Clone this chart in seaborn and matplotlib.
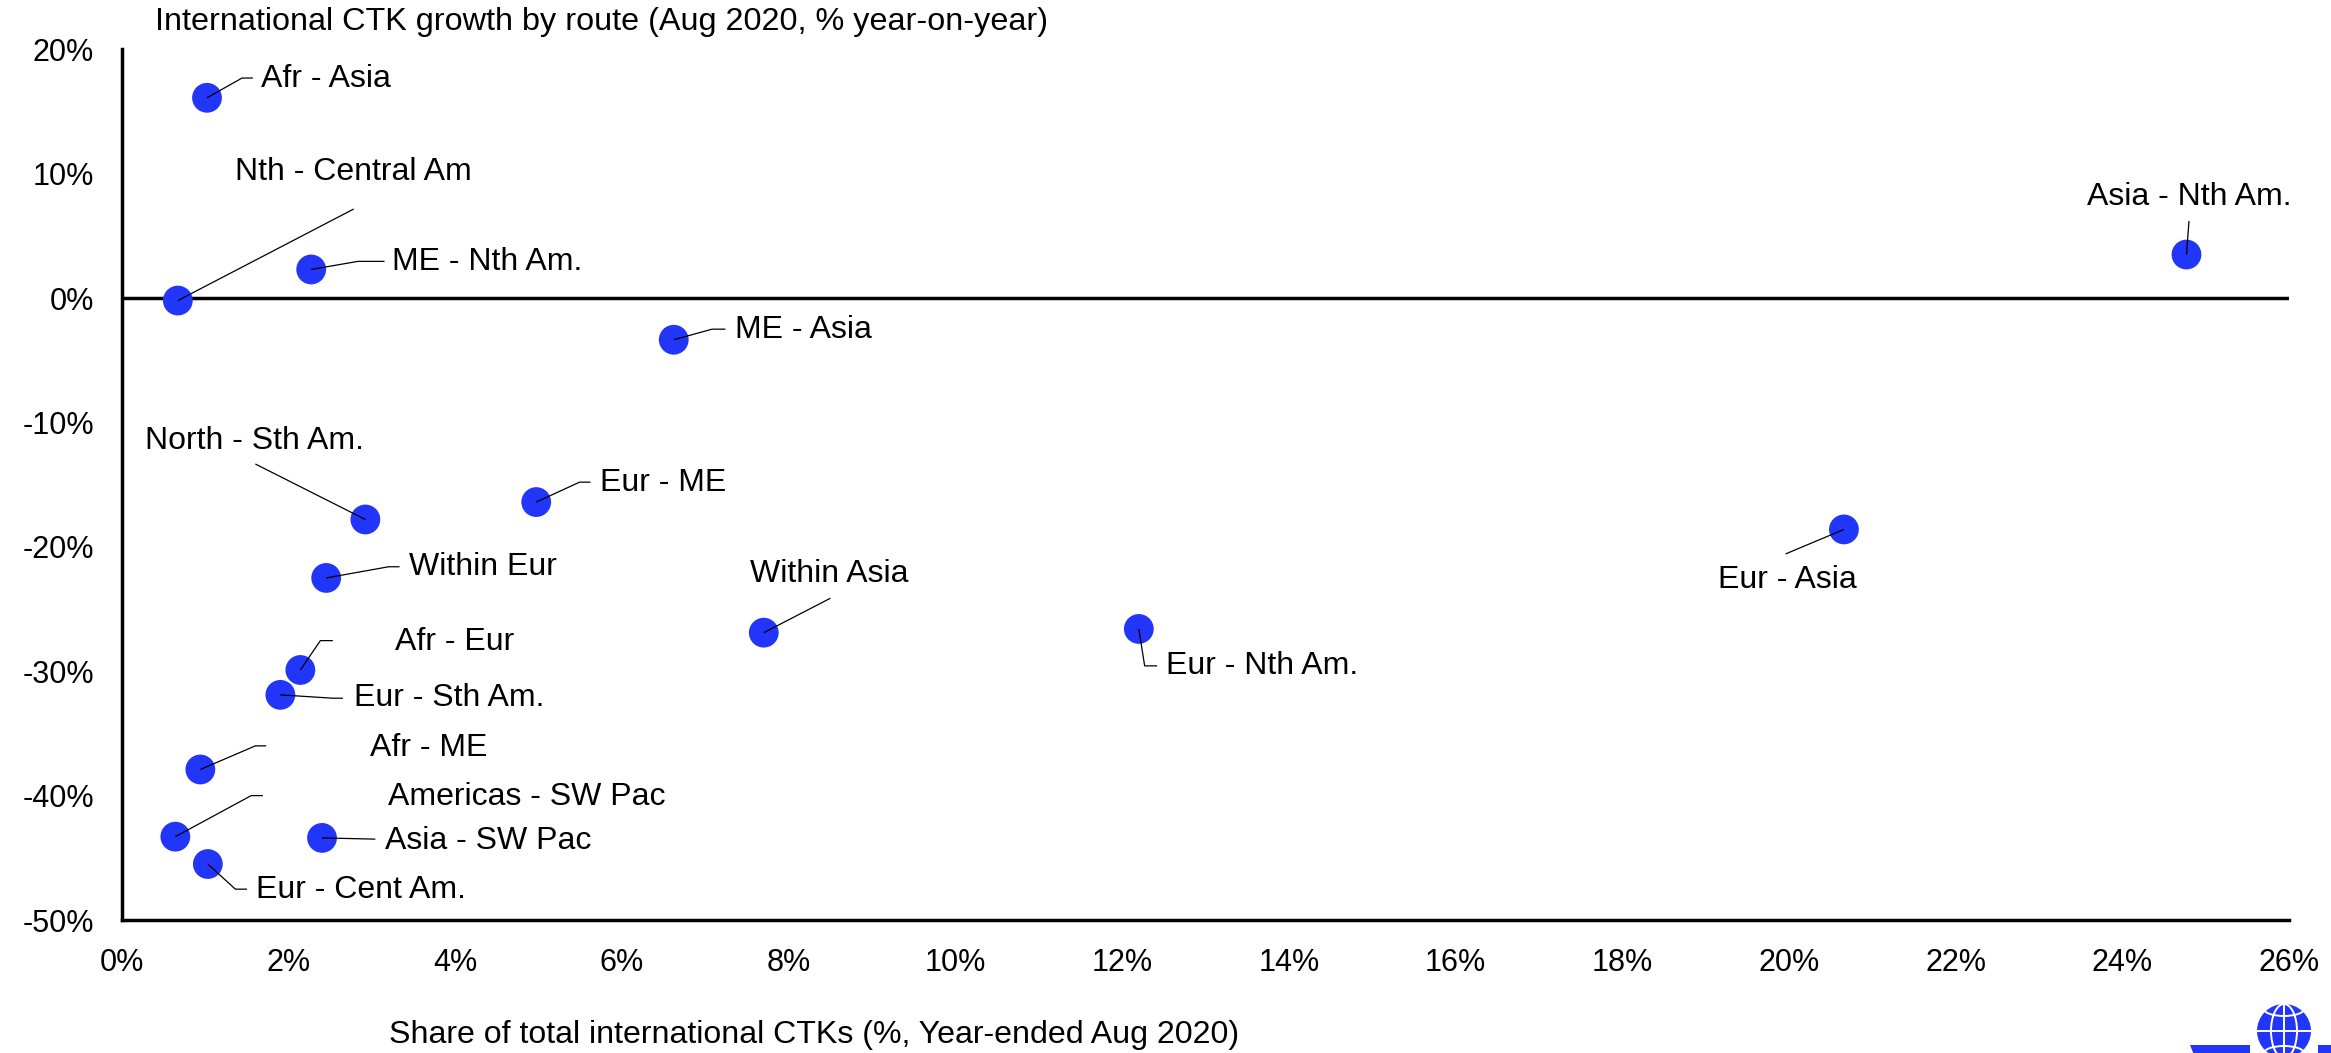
import matplotlib
matplotlib.use("Agg")
import matplotlib.pyplot as plt
from matplotlib.patches import Circle, Ellipse, Polygon
from matplotlib.ticker import FuncFormatter, MultipleLocator
import seaborn as sns
import pandas as pd

# ---------------- data ----------------
routes = ["Afr - Asia", "Nth - Central Am", "ME - Nth Am.", "ME - Asia", "North - Sth Am.",
          "Eur - ME", "Within Eur", "Within Asia", "Eur - Nth Am.", "Eur - Asia",
          "Asia - Nth Am.", "Afr - Eur", "Eur - Sth Am.", "Afr - ME", "Americas - SW Pac",
          "Asia - SW Pac", "Eur - Cent Am."]
share = [1.02, 0.67, 2.27, 6.62, 2.92, 4.97, 2.45, 7.70, 12.2, 20.66,
         24.77, 2.14, 1.90, 0.94, 0.64, 2.40, 1.03]
growth = [16.1, -0.2, 2.3, -3.35, -17.8, -16.4, -22.5, -26.9, -26.6, -18.6,
          3.5, -29.9, -31.9, -37.9, -43.3, -43.4, -45.5]

title = "International CTK growth by route (Aug 2020, % year-on-year)"
xlabel = "Share of total international CTKs (%, Year-ended Aug 2020)"

# ---------------- label layout (left-centre anchor of each label) ----------------
label_xy = [(1.67, 17.6), (1.36, 10.13), (3.24, 2.89), (7.35, -2.56), (0.28, -11.5),
            (5.73, -14.84), (3.44, -21.64), (7.54, -22.2), (12.53, -29.6), (19.15, -22.66),
            (23.58, 8.15), (3.28, -27.62), (2.78, -32.17), (2.97, -36.14), (3.19, -40.08),
            (3.15, -43.62), (1.61, -47.57)]
leaders = [
    [(1.44, 17.69), (1.57, 17.69)],
    [(2.78, 7.16)],
    [(2.83, 2.95), (3.15, 2.95)],
    [(7.08, -2.5), (7.24, -2.5)],
    [(1.60, -13.34)],
    [(5.49, -14.8), (5.62, -14.8)],
    [(3.20, -21.6), (3.33, -21.6)],
    [(8.50, -24.13)],
    [(12.27, -29.57), (12.42, -29.57)],
    [(19.96, -20.57)],
    [(24.8, 6.2)],
    [(2.38, -27.54), (2.53, -27.54)],
    [(2.53, -32.17), (2.65, -32.17)],
    [(1.60, -36.0), (1.73, -36.0)],
    [(1.55, -40.0), (1.69, -40.0)],
    [(3.04, -43.5)],
    [(1.36, -47.52), (1.50, -47.52)],
]

BLUE = "#2236FA"
FONT = ["Liberation Sans", "DejaVu Sans"]
TXT = 23
TICK = 22

sns.set_theme(style="white")
plt.rcParams["font.family"] = FONT

W, H = 2331, 1053
fig = plt.figure(figsize=(W / 100, H / 100), dpi=100)
ax = fig.add_axes([122 / W, 1 - 920 / H, (2289 - 122) / W, (920 - 49.3) / H])

df = pd.DataFrame({"route": routes, "share": share, "growth": growth})
sns.scatterplot(data=df, x="share", y="growth", ax=ax, s=460, color=BLUE,
                edgecolor="none", linewidth=0, zorder=3, legend=False)

ax.set_xlim(0, 26)
ax.set_ylim(-50, 20)
ax.axhline(0, color="black", lw=2.5, zorder=2)

for (px, py), name, (tx, ty), pts in zip(zip(share, growth), routes, label_xy, leaders):
    xs = [px] + [p[0] for p in pts]
    ys = [py] + [p[1] for p in pts]
    ax.plot(xs, ys, color="black", lw=0.9, zorder=4, solid_capstyle="butt")
    ax.text(tx, ty, name, ha="left", va="center", fontsize=TXT, color="black", zorder=5)

ax.xaxis.set_major_locator(MultipleLocator(2))
ax.yaxis.set_major_locator(MultipleLocator(10))
ax.xaxis.set_major_formatter(FuncFormatter(lambda v, p: f"{v:.0f}%"))
ax.yaxis.set_major_formatter(FuncFormatter(lambda v, p: f"{v:.0f}%"))
ax.tick_params(axis="both", which="major", direction="out", length=7, width=2.4,
               color="black", labelsize=TICK, labelcolor="black")
ax.tick_params(axis="y", pad=13)
ax.tick_params(axis="x", pad=13)

for side in ["top", "right"]:
    ax.spines[side].set_visible(False)
for side in ["left", "bottom"]:
    ax.spines[side].set_color("black")
    ax.spines[side].set_linewidth(2.5)
ax.set_xlabel("")
ax.set_ylabel("")

ax.text(0.0152, 1.031, title, transform=ax.transAxes, ha="left", va="center",
        fontsize=23.3, color="black")
fig.text(389 / W, 1 - 1035 / H, xlabel, ha="left", va="center", fontsize=23.1, color="black")

# ---------------- logo (globe with wings), drawn in pixel units ----------------
lx0, lx1, ly0, ly1 = 2170, 2331, 990, 1053
lax = fig.add_axes([lx0 / W, 0, (lx1 - lx0) / W, (ly1 - ly0) / H])
lax.set_xlim(lx0, lx1)
lax.set_ylim(ly1, ly0)
lax.axis("off")
cx, cy, r = 2284, 1031, 27
lax.add_patch(Polygon([(2190, 1045), (2250, 1045), (2250, 1055), (2194, 1055)],
                      closed=True, color=BLUE, lw=0))
lax.add_patch(Polygon([(2318, 1045), (2335, 1045), (2335, 1055), (2318, 1055)],
                      closed=True, color=BLUE, lw=0))
lax.add_patch(Circle((cx, cy), r + 5, color="white", lw=0))
lax.add_patch(Circle((cx, cy), r, color=BLUE, lw=0))
lax.add_patch(Ellipse((cx, cy), 26, 2 * r, fill=False, edgecolor="white", lw=1.4))
lax.plot([cx, cx], [cy - r, cy + r], color="white", lw=1.4)
lax.plot([cx - r, cx + r], [cy, cy], color="white", lw=1.4)
lax.add_patch(Ellipse((cx, cy - 22), 40, 14, fill=False, edgecolor="white", lw=1.4))
lax.add_patch(Ellipse((cx, cy + 22), 40, 14, fill=False, edgecolor="white", lw=1.4))
lax.add_patch(Circle((cx, cy), r + 5, fill=False, edgecolor="white", lw=2))

fig.savefig("out.png", dpi=100, facecolor="white")
